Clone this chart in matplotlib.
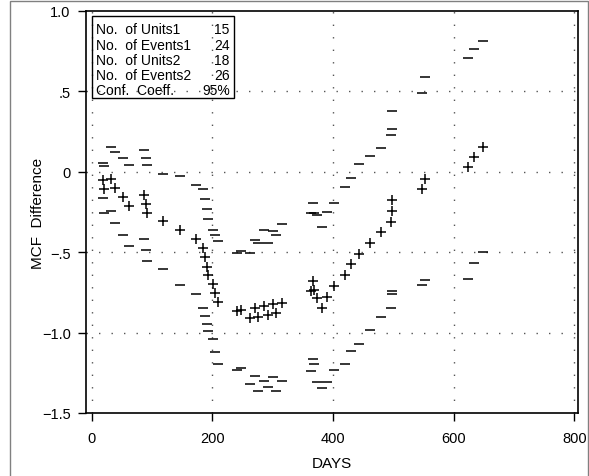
import matplotlib
matplotlib.use("Agg")
import matplotlib.pyplot as plt
from matplotlib.patches import Rectangle
from matplotlib.ticker import FixedLocator, FuncFormatter

# event days and MCF difference with its confidence limits
days = [18, 32, 21, 38, 52, 61, 87, 90, 92, 118, 146, 172, 184, 187, 191, 193,
        201, 204, 210, 241, 248, 263, 271, 276, 286, 292, 301, 305, 316, 366,
        363, 368, 373, 382, 390, 401, 420, 430, 443, 461, 480, 496, 498, 498,
        547, 552, 624, 634, 649]
mcf_diff = [-0.054, -0.045, -0.110, -0.100, -0.155, -0.210, -0.143, -0.199,
            -0.255, -0.309, -0.365, -0.421, -0.476, -0.529, -0.589, -0.641,
            -0.695, -0.751, -0.810, -0.868, -0.857, -0.910, -0.844, -0.900,
            -0.833, -0.888, -0.823, -0.877, -0.813, -0.676, -0.742, -0.736,
            -0.785, -0.844, -0.779, -0.711, -0.642, -0.576, -0.510, -0.443,
            -0.377, -0.311, -0.243, -0.174, -0.110, -0.044, 0.027, 0.091, 0.157]
upper = [0.054, 0.157, 0.039, 0.123, 0.085, 0.044, 0.137, 0.087, 0.042, -0.011,
         -0.029, -0.085, -0.108, -0.170, -0.232, -0.294, -0.361, -0.394, -0.431,
         -0.502, -0.493, -0.502, -0.425, -0.440, -0.365, -0.440, -0.369, -0.390,
         -0.322, -0.191, -0.255, -0.258, -0.267, -0.346, -0.247, -0.191, -0.095,
         -0.040, 0.047, 0.098, 0.147, 0.228, 0.269, 0.379, 0.487, 0.591, 0.709,
         0.765, 0.815]
lower = [-0.162, -0.241, -0.259, -0.317, -0.392, -0.460, -0.419, -0.485, -0.553,
         -0.603, -0.701, -0.757, -0.846, -0.897, -0.947, -0.993, -1.038, -1.118,
         -1.194, -1.231, -1.221, -1.320, -1.267, -1.362, -1.302, -1.337, -1.277,
         -1.366, -1.302, -1.165, -1.238, -1.198, -1.310, -1.345, -1.308, -1.231,
         -1.194, -1.115, -1.068, -0.983, -0.900, -0.846, -0.757, -0.742, -0.705,
         -0.672, -0.664, -0.568, -0.499]

info_labels = ["No.  of Units1", "No.  of Events1", "No.  of Units2",
               "No.  of Events2", "Conf.  Coeff."]
info_values = ["15", "24", "18", "26", "95%"]

x_ticks = [0, 200, 400, 600, 800]
y_ticks = [-1.5, -1.0, -0.5, 0, 0.5, 1.0]
y_grid = [-1.0, -0.5, 0, 0.5]

plt.rcParams["font.family"] = ["Liberation Sans", "DejaVu Sans"]

fig = plt.figure(figsize=(5.89, 4.77), dpi=100)
ax = fig.add_axes([86 / 589, 1 - 414 / 477, 492 / 589, 402 / 477])

# outer frame of the page
fig.patches.append(Rectangle((10 / 589, -0.01), 578 / 589, 1.01 - 2 / 477,
                             transform=fig.transFigure, fill=False,
                             edgecolor="#808080", linewidth=1.0))

dots = (0, (1, 8))
for x in x_ticks:
    ax.axvline(x, color="#555555", linestyle=dots, linewidth=1.0, zorder=1)
for y in y_grid:
    ax.axhline(y, color="#555555", linestyle=dots, linewidth=1.0, zorder=1)

ax.scatter(days, upper, marker="_", s=45, color="black", linewidths=1.1, zorder=3)
ax.scatter(days, lower, marker="_", s=45, color="black", linewidths=1.1, zorder=3)
ax.scatter(days, mcf_diff, marker="+", s=55, color="black", linewidths=1.1, zorder=4)

ax.set_xlim(-9.5, 806)
ax.set_ylim(-1.5, 1.0)
ax.xaxis.set_major_locator(FixedLocator(x_ticks))
ax.yaxis.set_major_locator(FixedLocator(y_ticks))


def fmt_y(v, pos):
    if abs(v) < 1e-9:
        return "0"
    s = f"{abs(v):.1f}"
    if s.startswith("0"):
        s = s[1:]
    return ("\u2212" if v < 0 else "") + s


ax.yaxis.set_major_formatter(FuncFormatter(fmt_y))
ax.tick_params(direction="out", length=6, width=1.0, labelsize=10.5)
ax.tick_params(axis="x", pad=7)
ax.tick_params(axis="y", pad=5)
for sp in ax.spines.values():
    sp.set_linewidth(1.2)

ax.set_xlabel("DAYS", fontsize=11, labelpad=8)
ax.set_ylabel("MCF  Difference", fontsize=11, labelpad=-2)

# info box in the upper left corner
ax.add_patch(Rectangle((0.012, 0.784), 0.289, 0.204, transform=ax.transAxes,
                       fill=False, edgecolor="black", linewidth=1.0, zorder=5))
row_y = [0.955, 0.915, 0.878, 0.841, 0.803]
for yy, lab, val in zip(row_y, info_labels, info_values):
    ax.text(0.020, yy, lab, transform=ax.transAxes, fontsize=10,
            ha="left", va="center", zorder=6)
    ax.text(0.292, yy, val, transform=ax.transAxes, fontsize=10,
            ha="right", va="center", zorder=6)

fig.savefig("out.png", dpi=100)
